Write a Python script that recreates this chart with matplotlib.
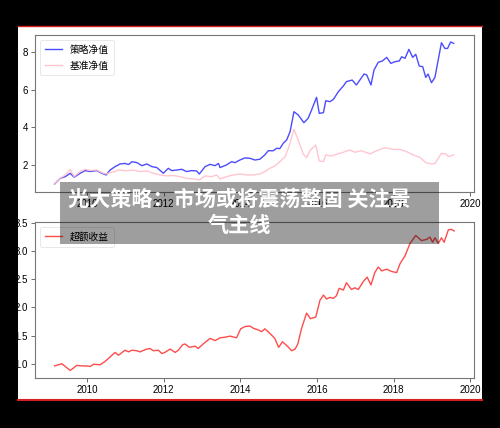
import matplotlib
matplotlib.use("Agg")
import matplotlib.pyplot as plt
from matplotlib.patches import Rectangle
from matplotlib.lines import Line2D

plt.rcParams['font.family'] = ['Noto Sans CJK SC', 'DejaVu Sans']

# ---- data (decimal years) ----
strategy_t = [2009.15, 2009.30, 2009.43, 2009.56, 2009.66, 2009.82, 2009.95, 2010.08, 2010.25, 2010.38,
              2010.50, 2010.60, 2010.73, 2010.86, 2010.99, 2011.08, 2011.17, 2011.30, 2011.43, 2011.56,
              2011.69, 2011.82, 2011.99, 2012.12, 2012.21, 2012.34, 2012.47, 2012.60, 2012.73, 2012.86,
              2012.93, 2013.08, 2013.21, 2013.34, 2013.43, 2013.47, 2013.64, 2013.77, 2013.86, 2013.99,
              2014.12, 2014.25, 2014.38, 2014.51, 2014.64, 2014.73, 2014.86, 2014.95, 2015.03, 2015.12,
              2015.21, 2015.30, 2015.40, 2015.51, 2015.66, 2015.77, 2015.86, 2015.99, 2016.06, 2016.17,
              2016.23, 2016.34, 2016.43, 2016.56, 2016.69, 2016.77, 2016.92, 2017.03, 2017.12, 2017.23,
              2017.30, 2017.41, 2017.49, 2017.60, 2017.71, 2017.82, 2017.93, 2018.03, 2018.15, 2018.21,
              2018.30, 2018.40, 2018.50, 2018.58, 2018.67, 2018.76, 2018.84, 2018.90, 2018.99, 2019.08,
              2019.25, 2019.34, 2019.41, 2019.49, 2019.57]
strategy_v = [1.01, 1.31, 1.40, 1.58, 1.37, 1.58, 1.72, 1.67, 1.72, 1.58,
              1.49, 1.75, 1.93, 2.07, 2.10, 2.04, 2.19, 2.14, 1.98, 2.07,
              1.93, 1.88, 1.58, 1.84, 1.72, 1.75, 1.79, 1.67, 1.72, 1.70,
              1.54, 1.93, 2.05, 1.98, 2.10, 1.88, 2.02, 2.19, 2.14, 2.28,
              2.39, 2.37, 2.28, 2.32, 2.55, 2.77, 2.77, 2.90, 2.88, 3.16,
              3.34, 3.78, 4.83, 4.66, 4.25, 4.48, 4.92, 5.59, 4.74, 4.78,
              5.41, 5.36, 5.48, 5.89, 6.19, 6.42, 6.50, 6.24, 6.50, 6.82,
              6.77, 6.24, 7.03, 7.44, 7.51, 7.70, 7.38, 7.47, 7.51, 7.73,
              7.65, 8.12, 7.70, 7.86, 7.24, 7.21, 6.64, 6.82, 6.36, 6.64,
              8.47, 8.17, 8.17, 8.51, 8.44]

bench_t = [2009.15, 2009.30, 2009.43, 2009.56, 2009.66, 2009.82, 2009.95, 2010.08, 2010.25, 2010.38,
           2010.50, 2010.60, 2010.73, 2010.82, 2010.95, 2011.08, 2011.21, 2011.38, 2011.56, 2011.73,
           2011.90, 2012.08, 2012.25, 2012.43, 2012.60, 2012.77, 2012.93, 2013.08, 2013.25, 2013.38,
           2013.47, 2013.64, 2013.82, 2013.99, 2014.17, 2014.34, 2014.51, 2014.64, 2014.77, 2014.90,
           2015.03, 2015.17, 2015.27, 2015.40, 2015.51, 2015.64, 2015.73, 2015.83, 2015.97, 2016.06,
           2016.17, 2016.23, 2016.38, 2016.51, 2016.69, 2016.86, 2016.99, 2017.17, 2017.38, 2017.56,
           2017.77, 2017.99, 2018.17, 2018.34, 2018.51, 2018.69, 2018.84, 2018.99, 2019.08, 2019.25,
           2019.37, 2019.43, 2019.57]
bench_v = [1.01, 1.31, 1.49, 1.79, 1.40, 1.67, 1.79, 1.72, 1.75, 1.61,
           1.54, 1.61, 1.67, 1.75, 1.72, 1.72, 1.75, 1.67, 1.70, 1.58,
           1.49, 1.44, 1.46, 1.40, 1.31, 1.28, 1.23, 1.44, 1.40, 1.49,
           1.28, 1.40, 1.49, 1.54, 1.49, 1.49, 1.54, 1.67, 1.84, 1.96,
           2.19, 2.46, 2.99, 3.90, 3.34, 2.60, 2.40, 2.81, 3.07, 2.23,
           2.19, 2.55, 2.49, 2.58, 2.69, 2.81, 2.69, 2.77, 2.60, 2.77,
           2.93, 2.84, 2.84, 2.72, 2.55, 2.42, 2.14, 2.07, 2.10, 2.63,
           2.60, 2.46, 2.55]

excess_t = [2009.15, 2009.30, 2009.34, 2009.43, 2009.56, 2009.64, 2009.73, 2009.86, 2009.99, 2010.08,
            2010.17, 2010.34, 2010.47, 2010.60, 2010.73, 2010.82, 2010.99, 2011.08, 2011.17, 2011.30,
            2011.38, 2011.56, 2011.64, 2011.73, 2011.86, 2011.95, 2012.03, 2012.17, 2012.30, 2012.38,
            2012.50, 2012.56, 2012.67, 2012.82, 2012.90, 2013.03, 2013.21, 2013.34, 2013.47, 2013.60,
            2013.73, 2013.90, 2014.01, 2014.12, 2014.25, 2014.34, 2014.47, 2014.56, 2014.64, 2014.77,
            2014.90, 2015.00, 2015.10, 2015.23, 2015.34, 2015.43, 2015.50, 2015.60, 2015.73, 2015.83,
            2015.97, 2016.08, 2016.17, 2016.25, 2016.34, 2016.43, 2016.51, 2016.58, 2016.69, 2016.77,
            2016.90, 2016.99, 2017.08, 2017.21, 2017.31, 2017.41, 2017.51, 2017.60, 2017.69, 2017.82,
            2017.95, 2018.08, 2018.17, 2018.30, 2018.43, 2018.58, 2018.73, 2018.86, 2018.95, 2019.02,
            2019.08, 2019.17, 2019.25, 2019.32, 2019.43, 2019.51, 2019.58]
excess_v = [0.96, 0.99, 1.00, 0.95, 0.88, 0.92, 0.97, 0.96, 0.96, 0.95,
            0.99, 0.98, 1.04, 1.12, 1.20, 1.15, 1.24, 1.21, 1.24, 1.23,
            1.21, 1.26, 1.27, 1.23, 1.24, 1.18, 1.20, 1.26, 1.20, 1.24,
            1.34, 1.35, 1.29, 1.31, 1.27, 1.35, 1.45, 1.41, 1.46, 1.47,
            1.49, 1.46, 1.62, 1.66, 1.67, 1.63, 1.60, 1.57, 1.62, 1.54,
            1.45, 1.29, 1.39, 1.31, 1.23, 1.26, 1.35, 1.63, 1.90, 1.80,
            1.83, 2.13, 2.22, 2.15, 2.18, 2.16, 2.21, 2.34, 2.31, 2.44,
            2.32, 2.35, 2.32, 2.46, 2.54, 2.40, 2.62, 2.72, 2.65, 2.68,
            2.64, 2.62, 2.78, 2.92, 3.14, 3.28, 3.19, 3.21, 3.25, 3.16,
            3.24, 3.14, 3.24, 3.16, 3.38, 3.39, 3.36]

year_ticks = [2010, 2012, 2014, 2016, 2018, 2020]
top_yticks = [2, 4, 6, 8]
bot_yticks = [1.0, 1.5, 2.0, 2.5, 3.0, 3.5]
title_lines = ["光大策略：市场或将震荡整固 关注景", "气主线"]

W, H = 500, 428
fig = plt.figure(figsize=(W / 100, H / 100), dpi=100, facecolor='black')

# white panel (behind the axes)
fig.patches.append(Rectangle((18 / W, 1 - 399 / H), 464 / W, 373 / H, transform=fig.transFigure,
                             facecolor='white', edgecolor='none', zorder=-5))
fig.lines.append(Line2D([18 / W, 482 / W], [1 - 26 / H, 1 - 26 / H], transform=fig.transFigure,
                        color='#d42020', lw=1.0, zorder=-4))
fig.lines.append(Line2D([18 / W, 482 / W], [1 - 399.5 / H, 1 - 399.5 / H], transform=fig.transFigure,
                        color='#d42020', lw=1.5, zorder=-4))

tick_font = dict(family=['Liberation Sans Narrow', 'Liberation Sans', 'DejaVu Sans'], size=7)

ax1 = fig.add_axes([35 / W, 1 - 192 / H, 439 / W, 157 / H])
ax2 = fig.add_axes([35 / W, 1 - 378 / H, 439 / W, 156 / H])

ax1.plot(strategy_t, strategy_v, color='blue', alpha=0.7, lw=1.0, label='策略净值')
ax1.plot(bench_t, bench_v, color='pink', alpha=0.9, lw=1.0, label='基准净值')
ax1.set_ylim(0.59, 8.88)
ax1.set_yticks(top_yticks)
ax1.set_yticklabels([str(v) for v in top_yticks], **tick_font)

ax2.plot(excess_t, excess_v, color='red', alpha=0.7, lw=1.0, label='超额收益')
ax2.set_ylim(0.745, 3.52)
ax2.set_yticks(bot_yticks)
ax2.set_yticklabels([f"{v:.1f}" for v in bot_yticks], **tick_font)

for ax in (ax1, ax2):
    ax.set_xlim(2008.64, 2020.10)
    ax.set_xticks(year_ticks)
    ax.set_xticklabels([str(y) for y in year_ticks], **tick_font)
    ax.tick_params(length=3, width=0.6, color='#555555', pad=2)
    for s in ax.spines.values():
        s.set_color('#777777')
        s.set_linewidth(0.8)
    leg = ax.legend(loc='upper left', fontsize=7, handlelength=1.8, frameon=True,
                    borderpad=0.5, labelspacing=0.6, handletextpad=0.8, fancybox=True)
    leg.get_frame().set_edgecolor('#dddddd')
    leg.get_frame().set_linewidth(0.6)

# title overlay
fig.patches.append(Rectangle((60 / W, 1 - 244 / H), 379 / W, 62 / H, transform=fig.transFigure,
                             facecolor='black', alpha=0.38, edgecolor='none', zorder=10))
fig.text(239 / W, 1 - 199 / H, title_lines[0], color='white', fontsize=15.2, fontweight='heavy',
         ha='center', va='center', zorder=11)
fig.text(239 / W, 1 - 225 / H, title_lines[1], color='white', fontsize=15.2, fontweight='heavy',
         ha='center', va='center', zorder=11)

fig.savefig('out.png', dpi=100, facecolor='black')
